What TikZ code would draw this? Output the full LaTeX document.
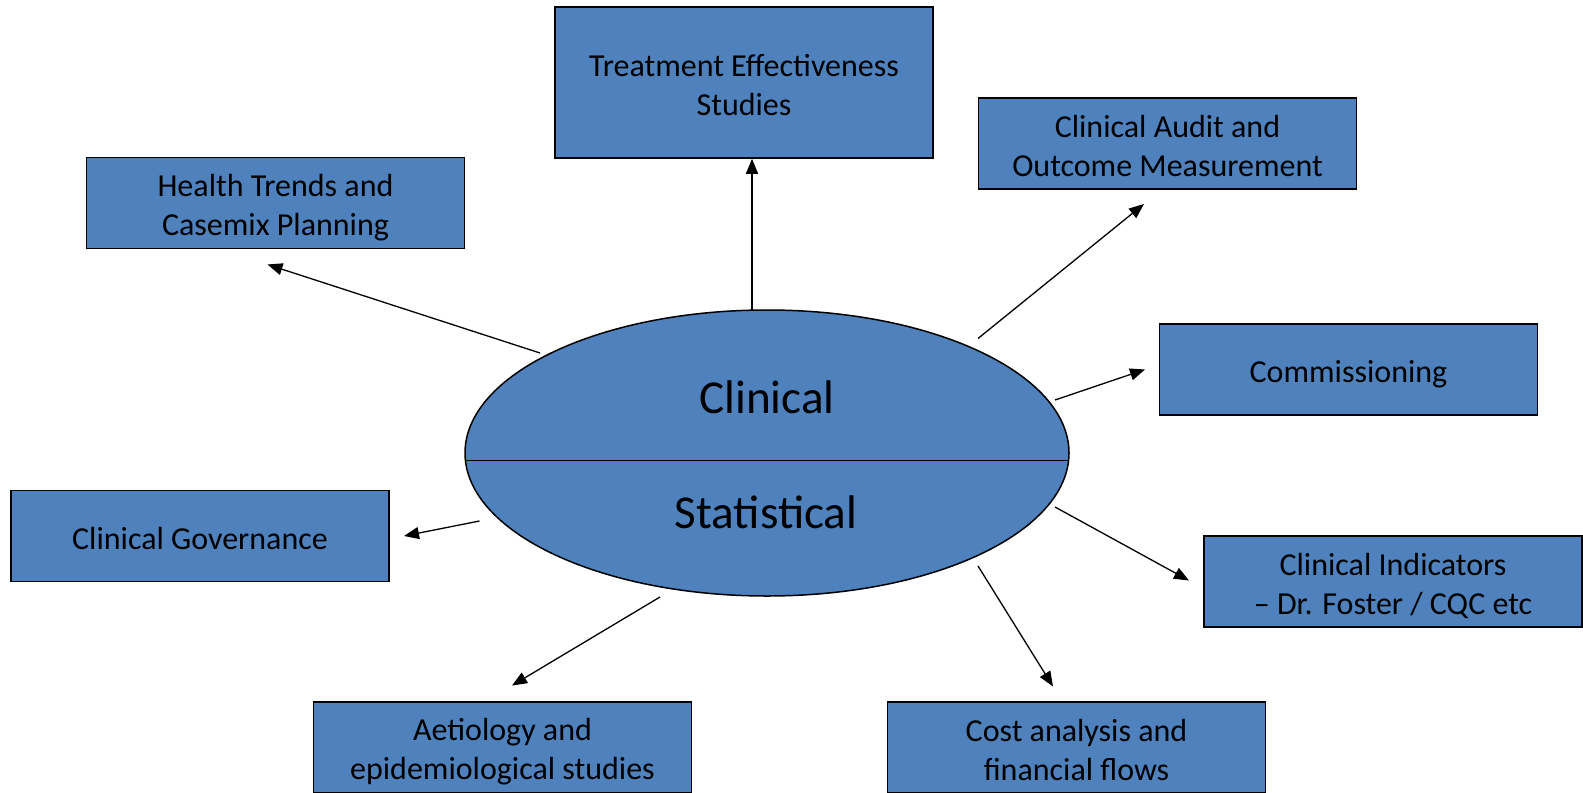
\documentclass[tikz,border=0pt]{standalone}
\usepackage{fontspec}
\setmainfont{Carlito}
\usetikzlibrary{arrows.meta,shapes.geometric,calc}
\definecolor{officeblue}{RGB}{79,129,189}
% line strut so text sits like in the slide
\newcommand\ls{\rule[-1.95pt]{0pt}{17.45pt}}
\lineskiplimit=-10pt

\begin{document}
\begin{tikzpicture}[x=0.5pt, y=-0.5pt,
  box/.style = {draw, fill=officeblue, line width=0.75pt,
    minimum width=189pt, minimum height=45.5pt, inner sep=0pt,
    align=center, font=\fontsize{16}{19.5}\selectfont},
  big/.style = {font=\fontsize{23.6}{28}\selectfont},
  link/.style = {-{Triangle[length=7.5pt,width=6pt]}, line width=0.65pt}]
  \useasboundingbox (0,0) rectangle (1583,792);
  \clip (0,0) rectangle (1583,792);

  % outer boxes
  \node[box, minimum height=75.5pt] (treat) at (744,82.5) {\ls Treatment Effectiveness\\\ls Studies};
  \node[box] (trends) at (275.5,202.75) {\ls Health Trends and\\\ls Casemix Planning};
  \node[box] (audit) at (1167.5,143.5) {\ls Clinical Audit and\\\ls Outcome Measurement};
  \node[box] (comm) at (1348.5,369.5) {\ls Commissioning};
  \node[box] (gov) at (200,536) {\ls Clinical Governance};
  \node[box] (indic) at (1393,581.5) {\ls Clinical Indicators\\\ls – Dr. Foster / CQC etc};
  \node[box] (aet) at (502.5,747.5) {\ls Aetiology and\\\ls epidemiological studies};
  \node[box] (cost) at (1076.5,747.5) {\ls Cost analysis and\\\ls financial flows};

  % centre ellipse
  \node[ellipse, draw, fill=officeblue, line width=0.75pt,
    minimum width=302pt, minimum height=143pt, inner sep=0pt] (hub) at (767,453) {};
  \draw[line width=0.75pt] ($(hub.west)+(0.5,7.5)$) -- ($(hub.east)+(-0.5,7.5)$);
  \node[big] (clin) at (767,397.5) {Clinical};
  \node[big] (stat) at (766,512.5) {Statistical};

  % arrow ends
  \coordinate (treat-a) at (752,310);
  \coordinate (trends-a) at (540,353);
  \coordinate (trends-b) at (267.5,264.5);
  \coordinate (audit-a) at (978,338.5);
  \coordinate (audit-b) at (1144,204);
  \coordinate (comm-a) at (1055,400);
  \coordinate (comm-b) at (1145,369.5);
  \coordinate (gov-a) at (479.5,521);
  \coordinate (gov-b) at (404,536);
  \coordinate (indic-a) at (1055,507);
  \coordinate (indic-b) at (1189,580.5);
  \coordinate (cost-a) at (978,566);
  \coordinate (cost-b) at (1053,686.5);
  \coordinate (aet-a) at (660,597);
  \coordinate (aet-b) at (512,685.5);

  \draw[link] (treat-a) -- (treat-a |- treat.south);
  \draw[link] (trends-a) -- (trends-b);
  \draw[link] (audit-a) -- (audit-b);
  \draw[link] (comm-a) -- (comm-b);
  \draw[link] (gov-a) -- (gov-b);
  \draw[link] (indic-a) -- (indic-b);
  \draw[link] (cost-a) -- (cost-b);
  \draw[link] (aet-a) -- (aet-b);
\end{tikzpicture}
\end{document}
